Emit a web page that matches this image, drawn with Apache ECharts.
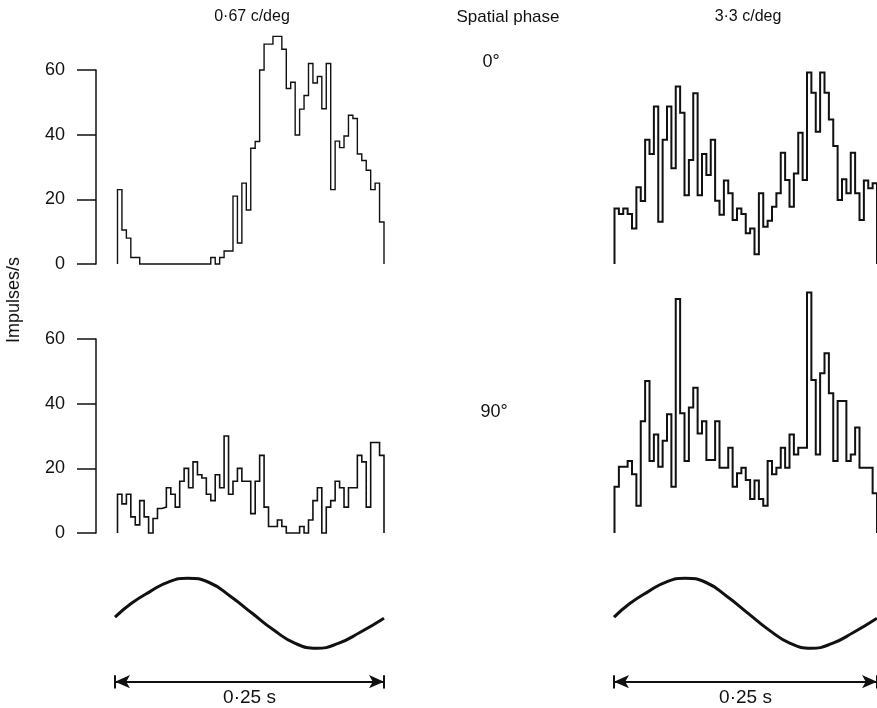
<!DOCTYPE html>
<html>
<head>
<meta charset="utf-8">
<script src="https://cdn.jsdelivr.net/npm/echarts@6/dist/echarts.min.js"></script>
<style>
  html, body { margin: 0; padding: 0; background: #fff; }
  #chart { width: 877px; height: 708px; }
</style>
</head>
<body>
<div id="chart"></div>
<script>
// impulses/s per bin, 60 bins over one 0.25 s cycle
const lowSf0 = [23, 10.5, 8, 2, 2, 0, 0, 0, 0, 0, 0, 0, 0, 0, 0, 0, 0, 0, 0, 0,
  0, 2, 0, 2, 4, 4, 21, 6.5, 25, 16.7, 35.8, 37.9, 60, 68, 68, 70.4, 70.4, 66.4, 54.3, 56.2,
  39.9, 47.9, 52.1, 62, 56, 58, 48, 62, 23, 38, 36, 39.6, 46, 45, 34, 32, 29, 23, 25, 13];
const lowSf90 = [12, 9, 12, 5, 2.5, 10, 5, 0, 4.5, 7.6, 8, 14, 12, 8, 16, 20, 14, 22, 18, 17,
  12, 10, 18, 14, 30, 12, 16, 20, 16, 16, 6, 16, 24, 8, 2, 2, 4, 2, 0, 0,
  0, 2, 0, 4, 10, 14, 0, 8, 10, 16, 14, 8, 14, 14, 24, 22, 8, 28, 28, 24];
const highSf0 = [17.2, 15.5, 17.2, 15.5, 11, 23.7, 19.5, 38.4, 34, 48.7, 13.1, 38.4, 48.7, 29.6, 54.9, 46.8, 21.3, 32.2, 52.8, 21.3,
  34, 27.5, 38.4, 19.6, 15.2, 25.8, 21.9, 13.6, 17.2, 15.5, 9.5, 11, 3, 21.9, 11.5, 13.4, 17.7, 21.9, 34.4, 26,
  17.7, 28, 40.6, 26, 59.2, 53, 40.9, 59.2, 53, 44.7, 36.5, 19.8, 26.2, 21.9, 34.4, 21.9, 13.6, 25.8, 23.4, 25];
const highSf90 = [14.3, 20.5, 20.5, 22.3, 18.2, 8.4, 34.6, 47, 22.3, 30.5, 20.5, 28.5, 36.7, 14.3, 72.4, 37, 22.3, 38.8, 44.9, 30.8,
  34.6, 22.6, 22.6, 34.6, 20.2, 20.2, 26.4, 14.3, 18.5, 20.2, 16.4, 10.5, 16.2, 10.5, 8.4, 22.3, 18.2, 20.2, 26.4, 20.2,
  30.5, 24.3, 26.4, 26.4, 74.4, 47.3, 24.3, 49.4, 55.6, 43.2, 22.3, 40.8, 40.8, 22.3, 24.3, 32.6, 20.2, 20.2, 20.2, 12.3];

const yTicks = [0, 20, 40, 60];

// stimulus trace: fraction of cycle, relative displacement
const sineT = [0, 0.06, 0.13, 0.2, 0.27, 0.35, 0.43, 0.51, 0.59, 0.67, 0.75, 0.83, 0.91, 1];
const sineY = [-0.11, 0.28, 0.62, 0.9, 1, 0.88, 0.48, 0, -0.48, -0.86, -1, -0.86, -0.55, -0.14];

const INK = '#111';
const FONT = 'Liberation Sans, Arial, sans-serif';
const ARROW_Y = -1.954;

// step outline that starts and ends on the zero line
function histPoints(vals) {
  const pts = [[0, 0]];
  vals.forEach((v, i) => pts.push([i, v]));
  pts.push([vals.length, vals[vals.length - 1]], [vals.length, 0]);
  return pts;
}

function histSeries(vals, idx, width) {
  return {
    type: 'line', step: 'end', xAxisIndex: idx, yAxisIndex: idx,
    data: histPoints(vals), symbol: 'none', clip: false, silent: true,
    lineStyle: { color: INK, width: width, join: 'miter', cap: 'butt' }
  };
}

function sineSeries(idx) {
  return {
    type: 'line', smooth: true, xAxisIndex: idx, yAxisIndex: idx,
    data: sineT.map((t, i) => [t, sineY[i]]), symbol: 'none', clip: false, silent: true,
    lineStyle: { color: INK, width: 3 },
    markLine: {
      silent: true, animation: false,
      lineStyle: { color: INK, width: 2, type: 'solid' },
      data: [
        [{ coord: [0, ARROW_Y], symbol: 'arrow', symbolSize: [10, 15],
           label: { show: true, position: 'insideMiddleBottom', formatter: '0·25 s', color: INK,
                    fontSize: 19, fontFamily: FONT, distance: 7 } },
         { coord: [1, ARROW_Y], symbol: 'arrow', symbolSize: [10, 15] }],
        [{ coord: [0, -1.77], symbol: 'none', label: { show: false } }, { coord: [0, -2.15], symbol: 'none' }],
        [{ coord: [1, -1.77], symbol: 'none', label: { show: false } }, { coord: [1, -2.15], symbol: 'none' }]
      ]
    }
  };
}

const grids = [
  { left: 117.5, width: 266.5, top: 70, height: 194 },
  { left: 117.5, width: 266.5, top: 339, height: 194 },
  { left: 614.5, width: 266.5, top: 70, height: 194 },
  { left: 614.5, width: 266.5, top: 339, height: 194 },
  { left: 115, width: 269, top: 571.3, height: 119 },
  { left: 614, width: 269, top: 571.3, height: 119 }
];

const xAxes = grids.map((g, i) => ({
  gridIndex: i, type: 'value', min: 0, max: i < 4 ? 60 : 1, show: false
}));

const yAxes = grids.map((g, i) => {
  if (i >= 4) return { gridIndex: i, type: 'value', min: -2.2, max: 1.2, show: false };
  const shown = i < 2;
  return {
    gridIndex: i, type: 'value', min: yTicks[0], max: yTicks[yTicks.length - 1], interval: 20,
    show: shown, offset: 21.5,
    axisLine: { show: true, onZero: false, lineStyle: { color: INK, width: 1.5 } },
    axisTick: { show: true, length: 19, lineStyle: { color: INK, width: 1.5 } },
    axisLabel: { color: INK, fontSize: 18, fontFamily: FONT, margin: 31 },
    splitLine: { show: false }
  };
});

function label(text, x, y, size, rot) {
  return {
    type: 'text', x: x, y: y, rotation: rot || 0, silent: true,
    style: { text: text, fill: INK, fontSize: size, fontFamily: FONT, align: 'center', verticalAlign: 'middle' }
  };
}

const chart = echarts.init(document.getElementById('chart'));
chart.setOption({
  backgroundColor: '#fff',
  animation: false,
  grid: grids,
  xAxis: xAxes,
  yAxis: yAxes,
  graphic: [
    label('0·67 c/deg', 252, 17, 16),
    label('Spatial phase', 508, 17, 17),
    label('3·3 c/deg', 748, 17, 16),
    label('0°', 491, 62, 18),
    label('90°', 494, 412, 18),
    label('Impulses/s', 14, 300, 18, Math.PI / 2)
  ],
  series: [
    histSeries(lowSf0, 0, 1.4),
    histSeries(lowSf90, 1, 1.6),
    histSeries(highSf0, 2, 2),
    histSeries(highSf90, 3, 2),
    sineSeries(4),
    sineSeries(5)
  ]
});
</script>
</body>
</html>
